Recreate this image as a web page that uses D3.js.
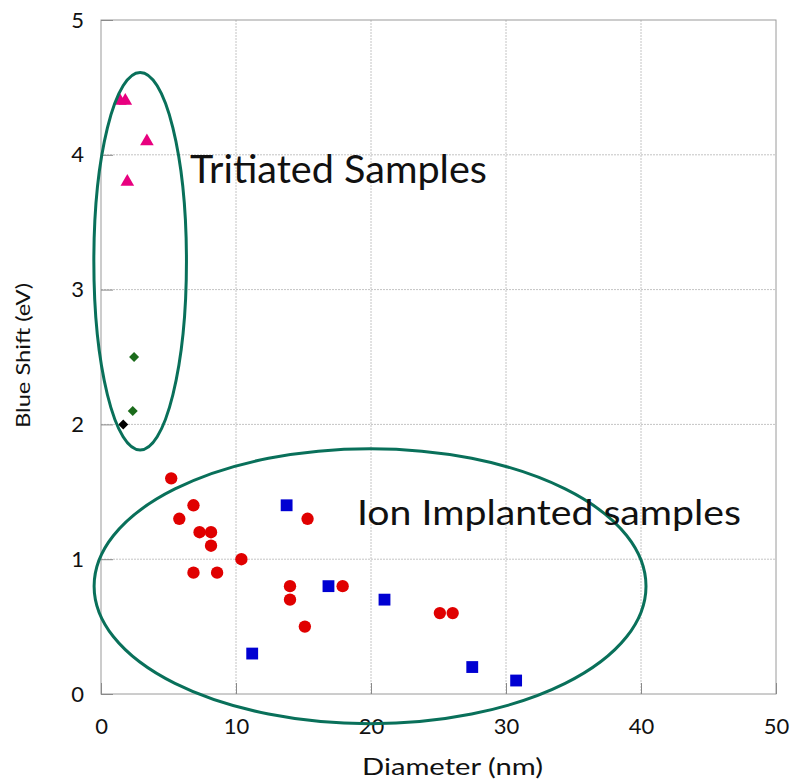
<!DOCTYPE html>
<meta charset="utf-8">
<style>
    body { margin: 0; background: white; }
    text { font-family: Lato, "Open Sans", sans-serif; fill: #111; }
</style>
<script src="https://d3js.org/d3.v7.min.js"></script>
<body>
<script>

    // tritiated samples
    var triX = [1.4, 1.8, 3.4, 1.95]
    var triY = [4.4, 4.4, 4.1, 3.8]
    var greenX = [2.45, 2.35]
    var greenY = [2.5, 2.1]
    var blackX = [1.65]
    var blackY = [2.0]

    // ion implanted samples
    var circX = [5.2, 6.85, 5.8, 7.3, 8.15, 8.15, 10.4, 6.85, 8.6, 15.3, 14.0, 14.0, 15.1, 17.9, 25.1, 26.05]
    var circY = [1.6, 1.4, 1.3, 1.2, 1.2, 1.1, 1.0, 0.9, 0.9, 1.3, 0.8, 0.7, 0.5, 0.8, 0.6, 0.6]
    var sqX = [13.75, 16.85, 21.0, 11.2, 27.5, 30.75]
    var sqY = [1.4, 0.8, 0.7, 0.3, 0.2, 0.1]

    var xTicks = [0, 10, 20, 30, 40, 50]
    var yTicks = [0, 1, 2, 3, 4, 5]

    // ellipses drawn round the two groups: centre x, centre y, radius x, radius y
    var ellCx = [2.9, 19.93]
    var ellCy = [3.21, 0.8]
    var ellRx = [3.43, 20.44]
    var ellRy = [1.4, 1.02]

    var labels = ["Tritiated Samples", "Ion Implanted samples"]

    var width = 790
    var height = 783
    var margin = { left: 101, right: 14, top: 20, bottom: 89 }

    var svg = d3.select("body")
        .append("svg")
        .attr("width", width)
        .attr("height", height)

    var x = d3.scaleLinear().domain([0, 50]).range([margin.left, width - margin.right])
    var y = d3.scaleLinear().domain([0, 5]).range([height - margin.bottom, margin.top])

    // grid
    svg.append("g")
        .selectAll("line")
        .data(xTicks.slice(1, -1))
        .enter().append("line")
        .attr("x1", function (d) { return x(d) })
        .attr("x2", function (d) { return x(d) })
        .attr("y1", y(0))
        .attr("y2", y(5))
        .attr("stroke", "#c4c4c4")
        .attr("stroke-dasharray", "2,1")

    svg.append("g")
        .selectAll("line")
        .data(yTicks.slice(1, -1))
        .enter().append("line")
        .attr("x1", x(0))
        .attr("x2", x(50))
        .attr("y1", function (d) { return y(d) })
        .attr("y2", function (d) { return y(d) })
        .attr("stroke", "#c4c4c4")
        .attr("stroke-dasharray", "2,1")

    // frame
    svg.append("rect")
        .attr("x", x(0))
        .attr("y", y(5))
        .attr("width", x(50) - x(0))
        .attr("height", y(0) - y(5))
        .attr("fill", "none")
        .attr("stroke", "#9a9a9a")

    // axes with inward ticks
    var xAxis = svg.append("g")
        .attr("transform", "translate(0," + y(0) + ")")
        .call(d3.axisBottom(x).tickValues(xTicks).tickFormat(d3.format("d"))
            .tickSizeInner(-11).tickSizeOuter(0).tickPadding(24))
    var yAxis = svg.append("g")
        .attr("transform", "translate(" + x(0) + ",0)")
        .call(d3.axisLeft(y).tickValues(yTicks).tickFormat(d3.format("d"))
            .tickSizeInner(-12).tickSizeOuter(0))

    xAxis.select(".domain").remove()
    yAxis.select(".domain").remove()
    svg.selectAll(".tick line").attr("stroke", "#8a8a8a")
    svg.selectAll(".tick text")
        .style("font-size", "22px")
        .style("fill", "#111")
    yAxis.selectAll(".tick text").attr("x", -17)

    svg.append("text")
        .text("Diameter (nm)")
        .attr("x", 362)
        .attr("y", 775)
        .attr("font-size", "24px")
        .attr("textLength", 181)
        .attr("lengthAdjust", "spacingAndGlyphs")

    svg.append("text")
        .text("Blue Shift (eV)")
        .attr("transform", "translate(30,428) rotate(-90)")
        .attr("font-family", "'Open Sans', sans-serif")
        .attr("font-size", "20px")
        .attr("textLength", 145)
        .attr("lengthAdjust", "spacingAndGlyphs")

    // markers
    function pts(xs, ys) {
        return xs.map(function (d, i) { return [d, ys[i]] })
    }

    function drawSymbols(data, type, size, color, rot) {
        svg.append("g")
            .selectAll("path")
            .data(data)
            .enter().append("path")
            .attr("d", d3.symbol().type(type).size(size))
            .attr("transform", function (d) {
                return "translate(" + x(d[0]) + "," + y(d[1]) + ") rotate(" + rot + ")"
            })
            .attr("fill", color)
    }

    drawSymbols(pts(circX, circY), d3.symbolCircle, 120, "#e00000", 0)
    drawSymbols(pts(sqX, sqY), d3.symbolSquare, 140, "#0000d2", 0)
    drawSymbols(pts(triX, triY), d3.symbolTriangle, 80, "#e8007f", 0)
    drawSymbols(pts(greenX, greenY), d3.symbolSquare, 50, "#1b6b1b", 45)
    drawSymbols(pts(blackX, blackY), d3.symbolSquare, 50, "#000000", 45)

    // ellipses
    svg.append("g")
        .selectAll("ellipse")
        .data(d3.range(ellCx.length))
        .enter().append("ellipse")
        .attr("cx", function (i) { return x(ellCx[i]) })
        .attr("cy", function (i) { return y(ellCy[i]) })
        .attr("rx", function (i) { return x(ellCx[i] + ellRx[i]) - x(ellCx[i]) })
        .attr("ry", function (i) { return y(ellCy[i]) - y(ellCy[i] + ellRy[i]) })
        .attr("fill", "none")
        .attr("stroke", "#09705a")
        .attr("stroke-width", 3)

    // group labels
    svg.append("text")
        .text(labels[0])
        .attr("x", 190)
        .attr("y", 183)
        .attr("font-size", "39px")
        .attr("textLength", 297)
        .attr("lengthAdjust", "spacingAndGlyphs")

    svg.append("text")
        .text(labels[1])
        .attr("x", 357)
        .attr("y", 525)
        .attr("font-size", "34px")
        .attr("textLength", 384)
        .attr("lengthAdjust", "spacingAndGlyphs")

</script>
